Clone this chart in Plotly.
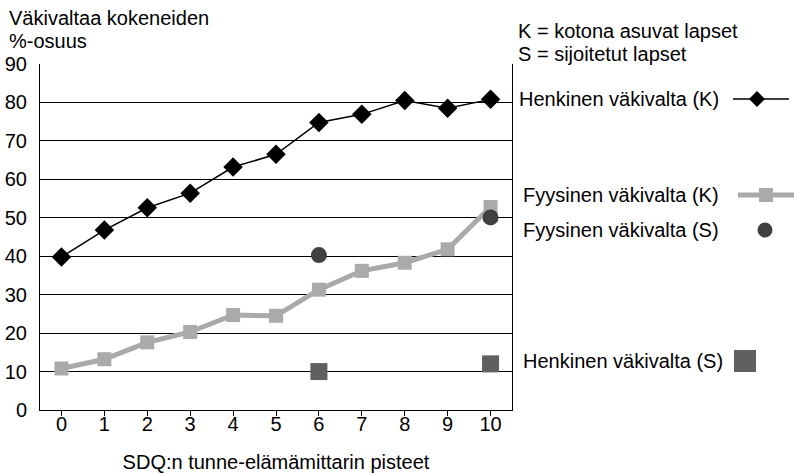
import plotly.graph_objects as go

x_cats = [0, 1, 2, 3, 4, 5, 6, 7, 8, 9, 10]
henkinen_k = [39.8, 46.8, 52.6, 56.4, 63.2, 66.5, 74.8, 76.9, 80.5, 78.5, 80.8]
fyysinen_k = [10.8, 13.2, 17.6, 20.3, 24.7, 24.5, 31.3, 36.2, 38.3, 41.8, 52.8]
s_x = [6, 10]
fyysinen_s = [40.3, 50.1]
henkinen_s = [10.0, 12.0]
y_ticks = [0, 10, 20, 30, 40, 50, 60, 70, 80, 90]

FONT = "Liberation Sans, Arial, sans-serif"
FS = 20
W, H = 794, 473
L, R, T, B = 40, 512, 64, 410  # plot area in pixels


def px2paper(px, py):
    return (px - L) / (R - L), (B - py) / (B - T)


fig = go.Figure()
fig.add_trace(go.Scatter(x=x_cats, y=fyysinen_k, mode="lines+markers",
                         name="Fyysinen väkivalta (K)",
                         line=dict(color="#aaaaaa", width=5),
                         marker=dict(symbol="square", size=14, color="#aaaaaa")))
fig.add_trace(go.Scatter(x=x_cats, y=henkinen_k, mode="lines+markers",
                         name="Henkinen väkivalta (K)",
                         line=dict(color="#000000", width=1.5),
                         marker=dict(symbol="diamond", size=15, color="#000000")))
fig.add_trace(go.Scatter(x=s_x, y=fyysinen_s, mode="markers",
                         name="Fyysinen väkivalta (S)",
                         marker=dict(symbol="circle", size=16, color="#404040")))
fig.add_trace(go.Scatter(x=s_x, y=henkinen_s, mode="markers",
                         name="Henkinen väkivalta (S)",
                         marker=dict(symbol="square", size=17, color="#606060")))

ann = []
for t, px, py in [
    ("Väkivaltaa kokeneiden", 7, 18),
    ("%-osuus", 7, 41),
    ("K = kotona asuvat lapset", 516, 31),
    ("S = sijoitetut lapset", 516, 54),
    ("Henkinen väkivalta (K)", 517, 99),
    ("Fyysinen väkivalta (K)", 521, 195),
    ("Fyysinen väkivalta (S)", 521, 230),
    ("Henkinen väkivalta (S)", 521, 361),
]:
    a, b = px2paper(px, py)
    ann.append(dict(text=t, x=a, y=b, xref="paper", yref="paper", showarrow=False,
                    xanchor="left", yanchor="middle",
                    font=dict(family=FONT, size=FS, color="black")))

# custom legend keys (text left, symbol right)
shapes = []
def hline(x0, x1, y, color, width):
    a0, b = px2paper(x0, y)
    a1, _ = px2paper(x1, y)
    shapes.append(dict(type="line", xref="paper", yref="paper", x0=a0, x1=a1,
                       y0=b, y1=b, line=dict(color=color, width=width)))

def pix_shape(kind, cx, cy, half, color):
    a, b = px2paper(cx, cy)
    if kind == "diamond":
        shapes.append(dict(type="path", xref="paper", yref="paper",
                           xsizemode="pixel", ysizemode="pixel", xanchor=a, yanchor=b,
                           path=f"M{-half},0 L0,{half} L{half},0 L0,{-half} Z",
                           fillcolor=color, line=dict(width=0)))
    else:
        shapes.append(dict(type=kind, xref="paper", yref="paper",
                           xsizemode="pixel", ysizemode="pixel", xanchor=a, yanchor=b,
                           x0=-half, x1=half, y0=-half, y1=half,
                           fillcolor=color, line=dict(width=0)))

hline(733, 789, 99, "#000000", 1.5)
pix_shape("diamond", 757, 99, 8, "#000000")
hline(738, 794, 195, "#aaaaaa", 5)
pix_shape("rect", 766, 195, 7, "#aaaaaa")
pix_shape("circle", 765, 230, 7.5, "#404040")
pix_shape("rect", 745, 361, 11, "#606060")

fig.update_layout(
    width=W, height=H,
    margin=dict(l=L, r=W - R, t=T, b=H - B),
    paper_bgcolor="white", plot_bgcolor="white",
    font=dict(family=FONT, size=FS, color="black"),
    showlegend=False,
    xaxis=dict(tickmode="array", tickvals=x_cats, ticktext=[str(v) for v in x_cats],
               range=[-0.5, 10.5], showline=True, linecolor="black", linewidth=1,
               ticks="outside", ticklen=5, tickcolor="black", showgrid=False,
               zeroline=False, mirror=False, automargin=False,
               ticklabelstandoff=-9,
               tickfont=dict(family=FONT, size=FS),
               title=dict(text="SDQ:n tunne-elämämittarin pisteet", standoff=27,
                          font=dict(family=FONT, size=FS))),
    yaxis=dict(tickmode="array", tickvals=y_ticks, range=[0, 90],
               showline=True, linecolor="black", linewidth=1, mirror=True,
               showgrid=True, gridcolor="black", gridwidth=1, zeroline=False,
               ticks="", ticklabelstandoff=8, automargin=False,
               tickfont=dict(family=FONT, size=FS)),
    annotations=ann,
    shapes=shapes,
)

fig.write_html("out.html", config={"displayModeBar": False},
               post_script="document.body.style.margin='0';")
